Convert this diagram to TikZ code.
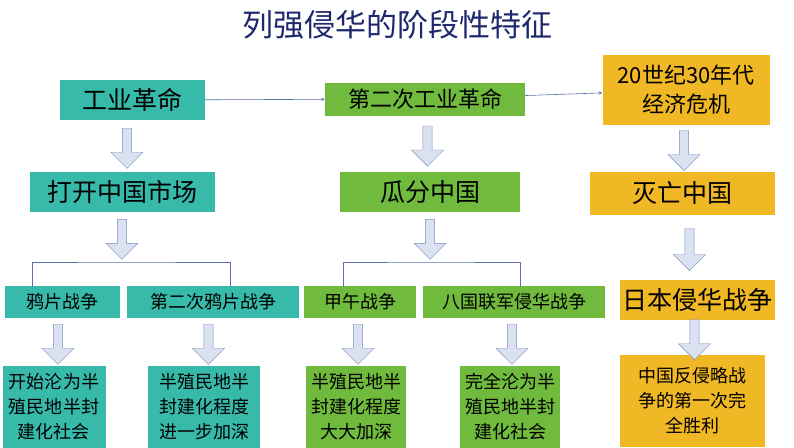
\documentclass[tikz,border=0pt]{standalone}
\usepackage{fontspec}
\setmainfont{Noto Sans CJK SC}
\usetikzlibrary{shapes.arrows,calc}
\definecolor{tealbox}{RGB}{56,186,170}
\definecolor{greenbox}{RGB}{112,186,62}
\definecolor{goldbox}{RGB}{240,184,36}
\definecolor{linkblue}{RGB}{90,110,170}
\definecolor{arrowfill}{RGB}{218,226,242}
\definecolor{titleblue}{RGB}{30,40,110}
\tikzset{
  box/.style={inner sep=0pt,align=center,text=black},
  bigbox/.style={box,font=\fontsize{25}{28}\selectfont},
  midbox/.style={box,font=\fontsize{18}{20}\selectfont},
  txtbox/.style={box,font=\fontsize{18}{25}\selectfont},
  blk/.style={single arrow,draw=linkblue!80,fill=arrowfill,rotate=-90,minimum height=40pt,minimum width=32pt,single arrow head extend=8pt,inner sep=3pt},
  link/.style={draw=linkblue,line width=0.6pt},
}
\begin{document}
\begin{tikzpicture}[x=1pt,y=-1pt]
\useasboundingbox (0,0) rectangle (794,447);
% title
\node[font=\fontsize{31}{34}\selectfont,text=titleblue] (title) at (397,25) {列强侵华的阶段性特征};
% top row
\node[bigbox,fill=tealbox,minimum width=145,minimum height=40] (gyge) at (132,100) {工业革命};
\node[midbox,font=\fontsize{22}{24}\selectfont,fill=greenbox,minimum width=200,minimum height=33] (dierci) at (425,99) {第二次工业革命};
\node[bigbox,font=\fontsize{22}{29}\selectfont,fill=goldbox,minimum width=167,minimum height=70] (weiji) at (686,90) {20世纪30年代\\经济危机};
% second row
\node[bigbox,fill=tealbox,minimum width=185,minimum height=40] (dakai) at (122,192) {打开中国市场};
\node[bigbox,fill=greenbox,minimum width=180,minimum height=40] (guafen) at (430,192) {瓜分中国};
\node[bigbox,fill=goldbox,minimum width=185,minimum height=43] (miewang) at (682,193) {灭亡中国};
% war row
\node[midbox,fill=tealbox,minimum width=115,minimum height=32] (yapian) at (62,302) {鸦片战争};
\node[midbox,fill=tealbox,minimum width=172,minimum height=32] (yapian2) at (213,302) {第二次鸦片战争};
\node[midbox,fill=greenbox,minimum width=112,minimum height=32] (jiawu) at (360,302) {甲午战争};
\node[midbox,fill=greenbox,minimum width=182,minimum height=32] (baguo) at (514,302) {八国联军侵华战争};
\node[bigbox,fill=goldbox,minimum width=155,minimum height=40] (riben) at (697,300) {日本侵华战争};
% result row
\node[txtbox,fill=tealbox,minimum width=103,minimum height=82] (res1) at (54,407) {开始沦为半\\殖民地半封\\建化社会};
\node[txtbox,fill=tealbox,minimum width=112,minimum height=82] (res2) at (204,407) {半殖民地半\\封建化程度\\进一步加深};
\node[txtbox,fill=greenbox,minimum width=100,minimum height=82] (res3) at (356,407) {半殖民地半\\封建化程度\\大大加深};
\node[txtbox,fill=greenbox,minimum width=100,minimum height=82] (res4) at (510,407) {完全沦为半\\殖民地半封\\建化社会};
\node[txtbox,fill=goldbox,minimum width=145,minimum height=92] (res5) at (692,401) {中国反侵略战\\争的第一次完\\全胜利};
% horizontal links
\draw[link,-stealth] (gyge) -- (dierci);
\draw[link,-stealth] (dierci) -- (weiji);
% block arrows
\foreach \a/\b in {gyge/dakai,dierci/guafen,weiji/miewang,yapian/res1,yapian2/res2,jiawu/res3,baguo/res4,riben/res5}
  \node[blk] at ($(\a.south)!0.5!(\b.north)$) {};
\coordinate (brA) at (122,262);
\coordinate (brB) at (430,262);
\node[blk] at ($(dakai.south)!0.5!(brA)$) {};
\node[blk] at ($(guafen.south)!0.5!(brB)$) {};
\node[blk,minimum height=42pt] at ($(miewang.south)!0.5!(riben.north)$) {};
% brackets
\draw[link] (yapian.north -| 32,0) |- (brA) -| (yapian2.north -| 230,0);
\draw[link] (jiawu.north -| 343,0) |- (brB) -| (baguo.north -| 520,0);
\end{tikzpicture}
\end{document}
